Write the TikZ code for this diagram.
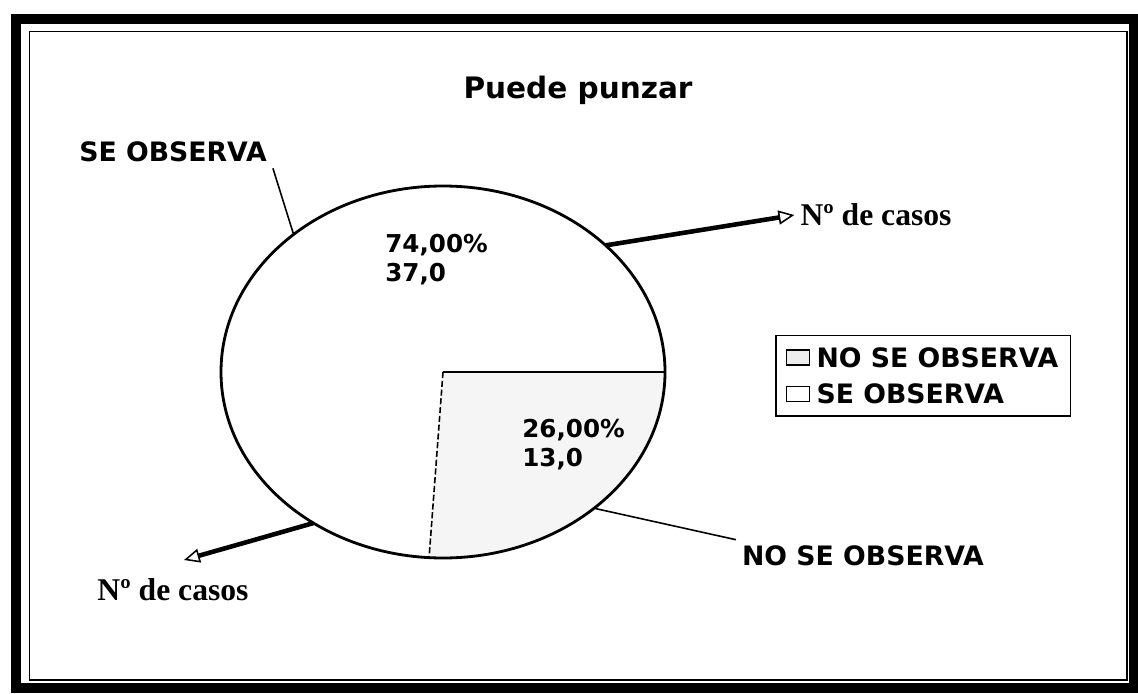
\documentclass[tikz,border=0pt]{standalone}
\usepackage{fontspec}
\setmainfont{Liberation Serif}
\newfontfamily\chartfont{DejaVu Sans}
\usetikzlibrary{positioning}
\usetikzlibrary{fit}
\usetikzlibrary{arrows.meta}

\tikzset{
  sectlabel/.style={font=\chartfont\bfseries\fontsize{15.2}{17}\selectfont},
  pctlabel/.style={align=left, inner sep=0pt, font=\chartfont\bfseries\fontsize{14}{16.5}\selectfont},
  caselabel/.style={font=\bfseries\fontsize{18}{21}\selectfont},
  casearrow/.style={line width=2.6pt, -{Triangle[open, length=9pt, width=8pt, line width=0.9pt]}},
  leader/.style={line width=0.9pt},
  swatch/.style={draw, line width=0.8pt, minimum width=0.46cm, minimum height=0.3cm, inner sep=0pt},
}

\begin{document}
\begin{tikzpicture}
    \useasboundingbox (0,0) rectangle (22.76,-13.86);
    % frame
    \draw[line width=0.2cm] (0.32,-0.38) rectangle (22.68,-13.75);
    \draw[line width=1pt] (0.59,-0.63) rectangle (22.54,-13.6);

    \node[font=\chartfont\bfseries\fontsize{16.8}{19}\selectfont, anchor=base] (title) at (11.56,-1.98) {Puede punzar};

    % pie
    \coordinate (c) at (8.86,-7.44);
    \fill[black!4] (c) -- ++(4.44,0) arc[start angle=0, end angle=-93.6, x radius=4.44cm, y radius=3.72cm] -- cycle;
    \draw[line width=1.6pt] (c) ellipse [x radius=4.44cm, y radius=3.72cm];
    \draw[line width=0.9pt] (c) -- ++(4.44,0);
    \draw[line width=0.9pt, dash pattern=on 3.5pt off 1.5pt] (c) -- ++(-93.6:4.44cm and 3.72cm);

    \node[pctlabel, anchor=north west] (seVal) at (7.70,-4.68) {74,00\%\\37,0};
    \node[pctlabel, anchor=north west] (noVal) at (10.44,-8.38) {26,00\%\\13,0};

    \node[sectlabel] (seLabel) at (3.46,-3.04) {SE OBSERVA};
    \node[sectlabel] (noLabel) at (17.26,-11.12) {NO SE OBSERVA};
    \path (c) ++(132.3:4.44cm and 3.72cm) coordinate (seEdge);
    \path (c) ++(-47.1:4.44cm and 3.72cm) coordinate (noEdge);
    \draw[leader] (seLabel.south east) -- (seEdge);
    \draw[leader] (noEdge) -- (noLabel.north west);

    \node[caselabel] (casosTop) at (17.52,-4.30) {Nº de casos};
    \node[caselabel] (casosBottom) at (3.46,-11.80) {Nº de casos};
    \path (c) ++(42.9:4.44cm and 3.72cm) coordinate (topEdge);
    \path (c) ++(234.3:4.44cm and 3.72cm) coordinate (bottomEdge);
    \coordinate (bottomTip) at (3.68,-11.20);
    \draw[casearrow] (topEdge) -- (casosTop.west);
    \draw[casearrow] (bottomEdge) -- (bottomTip);

    % legend
    \node[swatch, fill=black!7, anchor=west] (swNo) at (15.72,-7.15) {};
    \node[sectlabel, inner sep=1pt, right=0.08cm of swNo] (legNo) {NO SE OBSERVA};
    \node[swatch, below=0.4cm of swNo] (swSe) {};
    \node[sectlabel, inner sep=1pt, right=0.08cm of swSe] (legSe) {SE OBSERVA};
    \node[draw, line width=0.8pt, fit=(swNo)(legNo)(swSe)(legSe), inner sep=0.2cm] (legend) {};
\end{tikzpicture}
\end{document}
